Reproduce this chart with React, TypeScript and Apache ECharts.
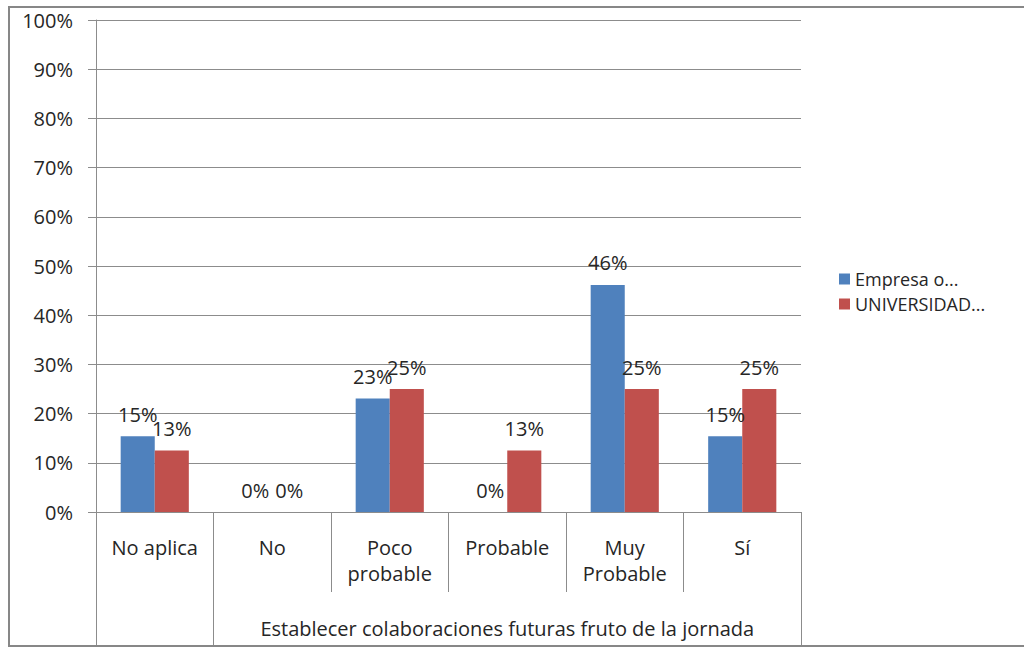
import React, { useEffect, useRef } from "react";
import * as echarts from "echarts";

const categories = ["No aplica", "No", "Poco\nprobable", "Probable", "Muy\nProbable", "Sí"];
const empresa = [15.38, 0, 23.08, 0, 46.15, 15.38];
const universidad = [12.5, 0, 25, 12.5, 25, 25];
const seriesNames = ["Empresa o...", "UNIVERSIDAD..."];
const groupTitle = "Establecer colaboraciones futuras fruto de la jornada";
const yTicks = { min: 0, max: 100, interval: 10 };

const FONT = "Open Sans";
const FS = 20;
const TEXT = "#262626";
const GRID = "#8c8c8c";

export default function App() {
  const ref = useRef<HTMLDivElement>(null);
  useEffect(() => {
    if (!ref.current) return;
    const chart = echarts.init(ref.current, undefined, { renderer: "svg" });
    const label = {
      show: true,
      position: "top",
      distance: 12,
      fontFamily: FONT,
      fontSize: FS,
      color: TEXT,
      formatter: (p: any) => Math.round(p.value) + "%",
    };
    chart.setOption({
      animation: false,
      backgroundColor: "#ffffff",
      textStyle: { fontFamily: FONT },
      grid: { left: 96, top: 20, right: 223, bottom: 136, containLabel: false },
      legend: {
        orient: "vertical",
        left: 834,
        top: 265,
        itemWidth: 11,
        itemHeight: 11,
        itemGap: 7,
        itemStyle: { borderWidth: 0 },
        icon: "rect",
        textStyle: { fontFamily: FONT, fontSize: 18, lineHeight: 17, color: TEXT },
        data: seriesNames,
      },
      xAxis: [
        {
          type: "category",
          data: categories,
          position: "bottom",
          axisLine: { show: true, lineStyle: { color: GRID, width: 1 } },
          axisTick: { show: true, length: 80, interval: 0, lineStyle: { color: GRID } },
          axisLabel: {
            interval: 0,
            margin: 22,
            fontFamily: FONT,
            fontSize: FS,
            lineHeight: 26,
            color: TEXT,
          },
          splitLine: { show: false },
        },
        {
          type: "value",
          position: "bottom",
          min: 0,
          max: 6,
          axisLine: { show: false },
          axisTick: {
            show: true,
            length: 133,
            customValues: [0, 1, 6],
            lineStyle: { color: GRID },
          },
          axisLabel: {
            show: true,
            customValues: [3.5],
            formatter: () => groupTitle,
            margin: 103,
            fontFamily: FONT,
            fontSize: FS,
            lineHeight: 26,
            color: TEXT,
          },
          splitLine: { show: false },
        },
      ],
      yAxis: {
        type: "value",
        min: yTicks.min,
        max: yTicks.max,
        interval: yTicks.interval,
        axisLine: { show: true, lineStyle: { color: GRID } },
        axisTick: { show: true, length: 8, lineStyle: { color: GRID } },
        axisLabel: {
          formatter: "{value}%",
          margin: 23,
          fontFamily: FONT,
          fontSize: FS,
          color: TEXT,
        },
        splitLine: { show: true, lineStyle: { color: GRID, width: 1 } },
      },
      graphic: [
        {
          type: "rect",
          shape: { x: 9, y: 7, width: 1030, height: 639 },
          style: { fill: "none", stroke: "#878787", lineWidth: 2 },
          silent: true,
        },
      ],
      series: [
        {
          name: seriesNames[0],
          type: "bar",
          xAxisIndex: 0,
          data: empresa,
          barGap: "0%",
          barCategoryGap: "42%",
          itemStyle: { color: "#4f81bd" },
          label,
        },
        {
          name: seriesNames[1],
          type: "bar",
          xAxisIndex: 0,
          data: universidad,
          barGap: "0%",
          barCategoryGap: "42%",
          itemStyle: { color: "#c0504d" },
          label,
        },
      ],
    });
    return () => chart.dispose();
  }, []);
  return (
    <div
      ref={ref}
      style={{ position: "fixed", left: 0, top: 0, width: 1024, height: 648, background: "#fff" }}
    />
  );
}
